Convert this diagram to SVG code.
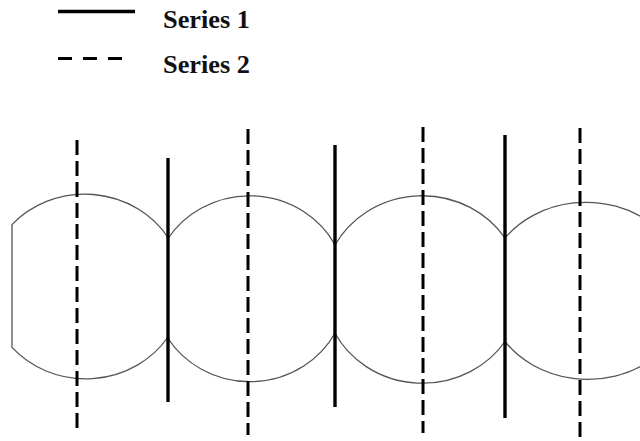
<svg xmlns="http://www.w3.org/2000/svg" width="640" height="441" viewBox="0 0 640 441">
<style>
.bg{fill:#ffffff}
.solid{stroke:#000;stroke-width:3.4;fill:none}
.dash{stroke:#000;stroke-width:3;fill:none;stroke-dasharray:15 6}
.arc{stroke:#555;stroke-width:1.3;fill:none}
.lbl{font-family:"Liberation Serif","Times New Roman",serif;font-weight:bold;font-size:25px;fill:#111}
</style>
<rect class="bg" x="0" y="0" width="640" height="441"/>
<g id="legend">
<line class="solid" x1="58" y1="11.5" x2="135" y2="11.5"/>
<text class="lbl" x="163" y="28" textLength="87" lengthAdjust="spacingAndGlyphs">Series 1</text>
<line class="dash" x1="58" y1="58.5" x2="124" y2="58.5" style="stroke-dasharray:14 11"/>
<text class="lbl" x="163" y="73" textLength="87" lengthAdjust="spacingAndGlyphs">Series 2</text>
</g>
<g id="cell1">
<path class="arc" d="M168,237.5 A98,92 0 0,0 12,224.6 L12,347.4 A98,92 0 0,0 168,337"/>
</g>
<g id="cell2">
<path class="arc" d="M335,244.7 A97,93 0 0,0 168,238.5 M168,338.5 A97,93 0 0,0 335,333.3"/>
</g>
<g id="cell3">
<path class="arc" d="M505,238 A99,93.5 0 0,0 335,245 M335,333.3 A99,93.5 0 0,0 505,341.5"/>
</g>
<g id="cell4">
<path class="arc" d="M505,238 A101,88.5 0 0,1 650,222.3 M505,341.5 A101,88.5 0 0,0 650,360.7"/>
</g>
<g id="connectors">
<line class="dash" x1="77" y1="140" x2="77" y2="428"/>
<line class="solid" x1="168" y1="158" x2="168" y2="402"/>
<line class="dash" x1="248" y1="129" x2="248" y2="435"/>
<line class="solid" x1="335" y1="145" x2="335" y2="407"/>
<line class="dash" x1="423" y1="127" x2="423" y2="433"/>
<line class="solid" x1="505" y1="135" x2="505" y2="418"/>
<line class="dash" x1="580" y1="128" x2="580" y2="438"/>
</g>
</svg>
